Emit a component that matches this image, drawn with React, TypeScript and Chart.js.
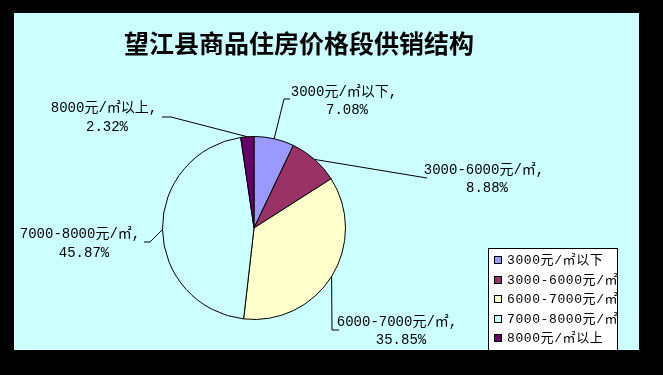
import React, { useEffect, useRef } from "react";
import { Chart, registerables } from "chart.js";

Chart.register(...registerables);

const title = "望江县商品住房价格段供销结构";
const categories = ["3000元/㎡以下", "3000-6000元/㎡", "6000-7000元/㎡", "7000-8000元/㎡", "8000元/㎡以上"];
const shares = [7.08, 8.88, 35.85, 45.87, 2.32];
const sliceColors = ["#9999FF", "#993366", "#FFFFCC", "#CCFFFF", "#660066"];

// layout: leader-line waypoints and label centres (per slice)
const leaderPoints: number[][][] = [
  [[284, 99], [290, 99]],
  [[427, 178]],
  [[332, 330], [339, 330]],
  [[150, 242], [144, 242]],
  [[171, 117], [162, 117]],
];
const labelCenters: number[][] = [
  [344, 92, 347, 110],
  [484, 170, 487, 188],
  [397, 322, 401, 340],
  [80, 234, 84, 253],
  [104, 108, 107, 127],
];

const BG = "#CCFFFF";
const FRAME = { l: 14, t: 13, r: 639, b: 350 };
const LABEL_FONT = "14px 'Liberation Mono', 'Noto Sans CJK SC', monospace";
const LEGEND_FONT = "13px 'Liberation Mono', 'Noto Sans CJK SC', monospace";

const framePlugin = {
  id: "frame",
  beforeDraw(chart: any) {
    const ctx = chart.ctx;
    ctx.save();
    ctx.fillStyle = "#000";
    ctx.fillRect(0, 0, chart.width, chart.height);
    ctx.fillStyle = BG;
    ctx.fillRect(FRAME.l, FRAME.t, FRAME.r - FRAME.l, FRAME.b - FRAME.t);
    ctx.restore();
  },
  afterDraw(chart: any) {
    const ctx = chart.ctx;
    ctx.save();
    ctx.beginPath();
    ctx.rect(FRAME.l, FRAME.t, FRAME.r - FRAME.l, FRAME.b - FRAME.t);
    ctx.clip();

    // title
    ctx.fillStyle = "#000";
    ctx.font = "bold 25px 'Noto Sans CJK SC', sans-serif";
    ctx.textAlign = "center";
    ctx.textBaseline = "middle";
    ctx.fillText(title, 299, 43);

    // data labels with leader lines
    const meta = chart.getDatasetMeta(0);
    meta.data.forEach((arc: any, i: number) => {
      const p = arc.getProps(["x", "y", "startAngle", "endAngle", "outerRadius"], true);
      const mid = (p.startAngle + p.endAngle) / 2;
      const sx = p.x + Math.cos(mid) * p.outerRadius;
      const sy = p.y + Math.sin(mid) * p.outerRadius;
      ctx.beginPath();
      ctx.moveTo(sx, sy);
      leaderPoints[i].forEach((pt) => ctx.lineTo(pt[0], pt[1]));
      ctx.strokeStyle = "#000";
      ctx.lineWidth = 1;
      ctx.stroke();

      const c = labelCenters[i];
      ctx.font = LABEL_FONT;
      ctx.fillStyle = "#000";
      ctx.textAlign = "center";
      ctx.textBaseline = "middle";
      ctx.fillText(categories[i] + ",", c[0], c[1]);
      ctx.fillText(shares[i].toFixed(2) + "%", c[2], c[3]);
    });

    // legend
    const lx = 488, ly = 248, lw = 129, lh = 110;
    ctx.fillStyle = "#fff";
    ctx.fillRect(lx, ly, lw, lh);
    ctx.strokeStyle = "#000";
    ctx.lineWidth = 1;
    ctx.strokeRect(lx + 0.5, ly + 0.5, lw, lh);
    ctx.font = LEGEND_FONT;
    (ctx as any).letterSpacing = "0.6px";
    ctx.textAlign = "left";
    ctx.textBaseline = "middle";
    categories.forEach((cat, i) => {
      const cy = 260 + i * 19.5;
      ctx.fillStyle = sliceColors[i];
      ctx.fillRect(494, Math.round(cy) - 4, 8, 8);
      ctx.strokeStyle = "#000";
      ctx.strokeRect(494.5, Math.round(cy) - 3.5, 7, 7);
      ctx.fillStyle = "#000";
      ctx.fillText(cat, 507, cy + 1);
    });
    (ctx as any).letterSpacing = "0px";
    ctx.restore();
  },
};

export default function App() {
  const ref = useRef<HTMLCanvasElement | null>(null);
  useEffect(() => {
    if (!ref.current) return;
    const chart = new Chart(ref.current, {
      type: "pie",
      data: {
        labels: categories,
        datasets: [
          {
            data: shares,
            backgroundColor: sliceColors,
            borderColor: "#000",
            borderWidth: 1,
          },
        ],
      },
      options: {
        responsive: false,
        animation: false,
        layout: { padding: { left: 162, right: 317, top: 136, bottom: 55 } },
        plugins: {
          legend: { display: false },
          tooltip: { enabled: false },
          title: { display: false },
        },
      },
      plugins: [framePlugin],
    });
    return () => chart.destroy();
  }, []);
  return (
    <div style={{ position: "fixed", left: 0, top: 0, width: 663, height: 375 }}>
      <canvas ref={ref} width={663} height={375} style={{ display: "block" }} />
    </div>
  );
}
